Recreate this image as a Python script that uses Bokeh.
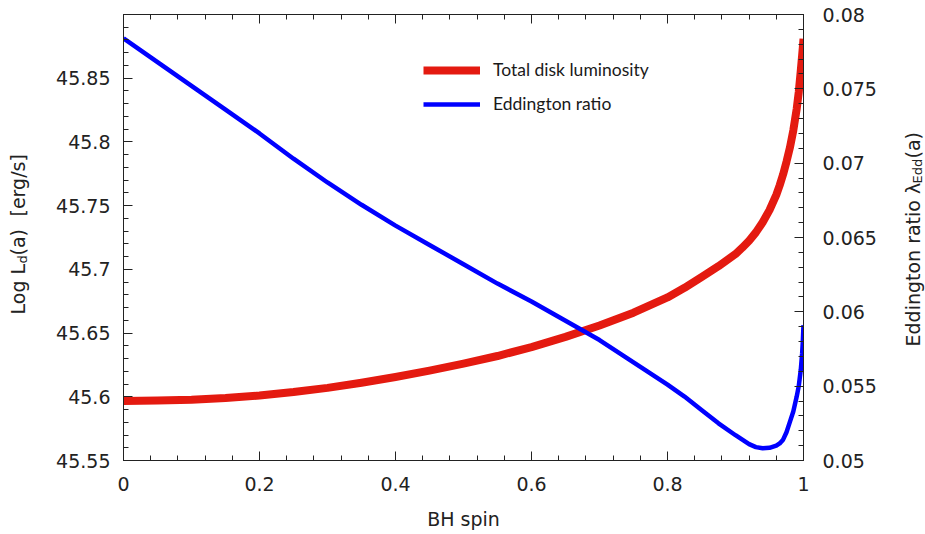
import numpy as np
from bokeh.plotting import figure
from bokeh.layouts import row
from bokeh.models import (Range1d, LinearAxis, SingleIntervalTicker, NumeralTickFormatter,
                          CustomJSTickFormatter, Label, Legend, LegendItem)
from bokeh.embed import file_html
from bokeh.resources import INLINE

# ---------------- data ----------------
spin = [0.0, 0.05, 0.1, 0.15, 0.2, 0.25, 0.3, 0.35, 0.4, 0.45, 0.5, 0.55, 0.6, 0.65,
        0.7, 0.75, 0.8, 0.825, 0.85, 0.875, 0.9, 0.91, 0.92, 0.93, 0.94, 0.95, 0.96,
        0.965, 0.97, 0.975, 0.98, 0.985, 0.99, 0.993, 0.996, 0.998, 0.999, 1.0]
log_ld = [45.5967, 45.5970, 45.5977, 45.5990, 45.6010, 45.6037, 45.6070, 45.6110,
          45.6155, 45.6205, 45.6260, 45.6320, 45.6390, 45.6470, 45.6560, 45.6660,
          45.6780, 45.6855, 45.6940, 45.7025, 45.7120, 45.7170, 45.7225, 45.7290,
          45.7370, 45.7465, 45.7585, 45.7660, 45.7745, 45.7845, 45.7955, 45.8090,
          45.8260, 45.8390, 45.8560, 45.8680, 45.8740, 45.8810]
edd_ratio = [0.0784, 0.0768, 0.0752, 0.0736, 0.0720, 0.0703, 0.0687, 0.0672, 0.0658,
             0.0645, 0.0632, 0.0619, 0.0607, 0.0594, 0.0581, 0.0566, 0.0551, 0.0543,
             0.0534, 0.0525, 0.0517, 0.0514, 0.0511, 0.0509, 0.05082, 0.05085, 0.0510,
             0.05115, 0.0514, 0.0519, 0.0526, 0.0533, 0.0543, 0.0550, 0.0561, 0.0572,
             0.0580, 0.0591]
series_names = ["Total disk luminosity", "Eddington ratio"]
x_label = "BH spin"
left_label_parts = ["Log L", "d", "(a)", "[erg/s]"]
right_label_parts = ["Eddington ratio \u03bb", "Edd", "(a)"]

FONT = "DejaVu Sans"
TXT = "#222222"
RED = "#e41a10"
BLUE = "#0000ff"
H = 534
TOP, BOTTOM = 14, 74

p = figure(width=855, height=H, output_backend="svg", toolbar_location=None,
           x_range=Range1d(0, 1), y_range=Range1d(45.55, 45.9),
           min_border_left=83, min_border_right=92, min_border_top=TOP,
           min_border_bottom=BOTTOM)
p.extra_y_ranges = {"edd": Range1d(0.05, 0.08)}
p.grid.visible = False
p.outline_line_color = TXT
p.background_fill_color = "white"
p.border_fill_color = "white"


def style_axis(ax, standoff):
    ax.major_tick_in = 9
    ax.major_tick_out = 0
    ax.minor_tick_in = 5
    ax.minor_tick_out = 0
    ax.axis_line_color = TXT
    ax.major_tick_line_color = TXT
    ax.minor_tick_line_color = TXT
    ax.major_label_text_font = FONT
    ax.major_label_text_font_size = "19px"
    ax.major_label_text_color = TXT
    ax.major_label_standoff = standoff


fmt = NumeralTickFormatter(format="0.[000]")

xa = p.xaxis[0]
xa.ticker = SingleIntervalTicker(interval=0.2, num_minor_ticks=5)
xa.formatter = fmt
style_axis(xa, 16)
xa.axis_label = x_label
xa.axis_label_text_font = FONT
xa.axis_label_text_font_size = "19px"
xa.axis_label_text_font_style = "normal"
xa.axis_label_text_color = TXT
xa.axis_label_standoff = 14

ya = p.yaxis[0]
ya.ticker = SingleIntervalTicker(interval=0.05, num_minor_ticks=5)
ya.formatter = fmt
style_axis(ya, 13)

ra = LinearAxis(y_range_name="edd",
                ticker=SingleIntervalTicker(interval=0.005, num_minor_ticks=5),
                formatter=fmt)
style_axis(ra, 19)
p.add_layout(ra, "right")

ta = LinearAxis(ticker=SingleIntervalTicker(interval=0.2, num_minor_ticks=5),
                formatter=CustomJSTickFormatter(code="return ''"))
style_axis(ta, 0)
ta.major_label_text_font_size = "0px"
p.add_layout(ta, "above")

# ---------------- curves ----------------
r_red = p.line(spin, log_ld, line_width=8, line_color=RED, line_join="round")
r_blue = p.line(spin, edd_ratio, y_range_name="edd", line_width=4.5,
                line_color=BLUE, line_join="round")

legend = Legend(items=[LegendItem(label=series_names[0], renderers=[r_red]),
                       LegendItem(label=series_names[1], renderers=[r_blue])],
                location=(300, 346), background_fill_alpha=0, border_line_color=None,
                padding=0, margin=0, spacing=13, glyph_width=57, glyph_height=20,
                label_height=20, label_standoff=13, label_text_font="Lato",
                label_text_font_size="17.5px", label_text_color="#1a1a1a")
p.add_layout(legend)


# ---------------- side strips carrying the rotated axis titles ----------------
# (their frames get aligned with the main frame, so the y range covers that span
#  and data y == distance from the bottom of the page)
def side_strip(w):
    f = figure(width=w, height=H, output_backend="svg", toolbar_location=None,
               x_range=Range1d(0, w), y_range=Range1d(BOTTOM, H - TOP),
               x_axis_location=None, y_axis_location=None, min_border=0,
               min_border_top=TOP, min_border_bottom=BOTTOM)
    f.grid.visible = False
    f.outline_line_color = None
    f.background_fill_color = "white"
    f.border_fill_color = "white"
    return f


def add_rot(f, text, x, y, size, dx=0):
    f.add_layout(Label(x=x + dx, y=y, text=text, angle=np.pi / 2, text_font=FONT,
                       text_font_size=size, text_color=TXT, text_align="left",
                       text_baseline="middle"))


left = side_strip(40)
# "Log L_d(a)  [erg/s]"  (reads bottom to top)
add_rot(left, left_label_parts[0], 17, 220, "19px")
add_rot(left, left_label_parts[1], 17, 271, "13px", dx=5)
add_rot(left, left_label_parts[2], 17, 279, "19px")
add_rot(left, left_label_parts[3], 17, 318, "19px")

right = side_strip(30)
# "Eddington ratio λ_Edd(a)"
add_rot(right, right_label_parts[0], 17, 188, "19px")
add_rot(right, right_label_parts[1], 17, 351, "13px", dx=5)
add_rot(right, right_label_parts[2], 17, 376, "19px")

layout = row(left, p, right, spacing=0)
open("out.html", "w").write(file_html(layout, INLINE))
